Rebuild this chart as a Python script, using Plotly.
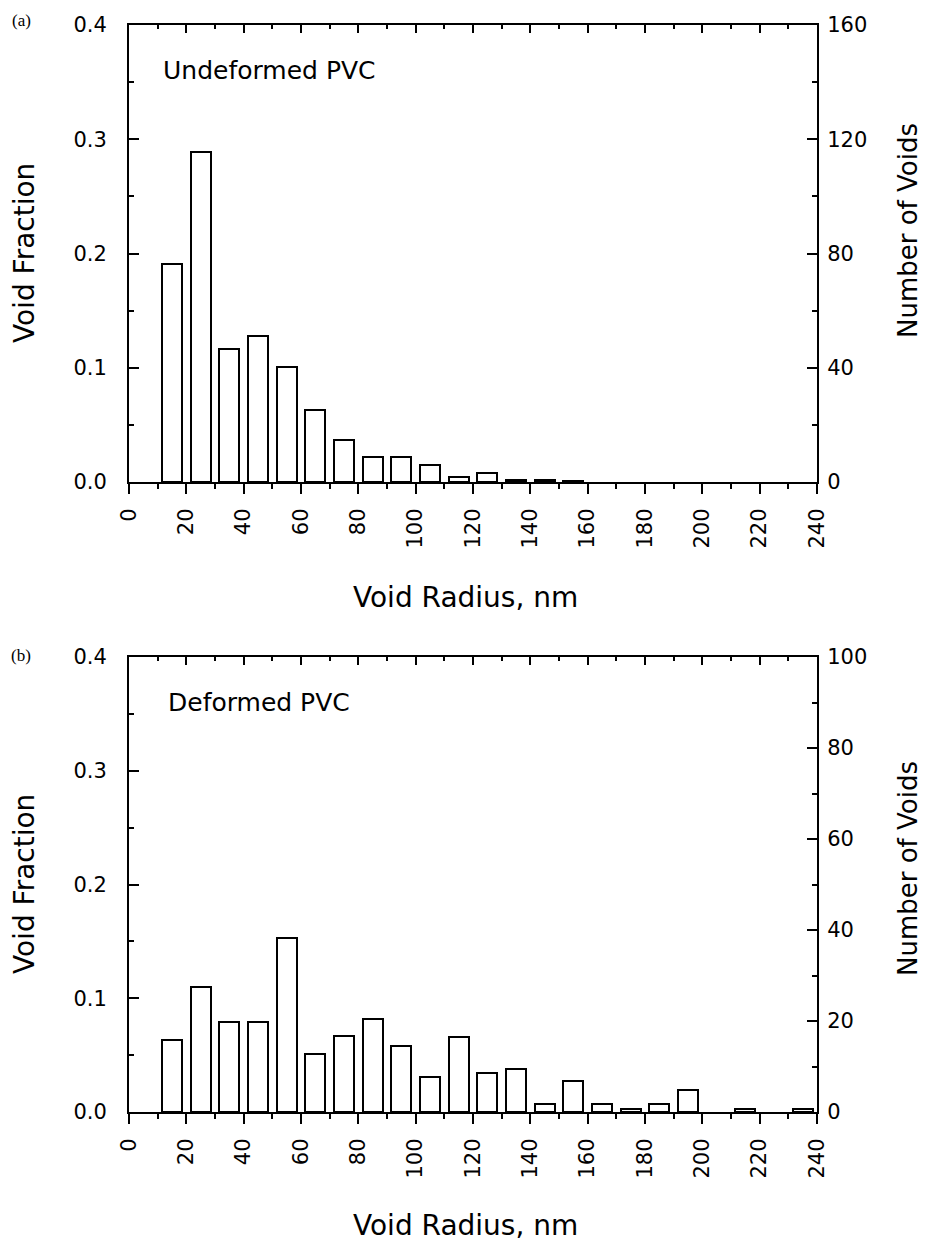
import plotly.graph_objects as go

# ---------------- data ----------------
radius_bins = [15, 25, 35, 45, 55, 65, 75, 85, 95, 105, 115, 125, 135, 145,
               155, 165, 175, 185, 195, 205, 215, 225, 235]
undeformed_fraction = [0.191, 0.289, 0.116, 0.128, 0.101, 0.063, 0.037, 0.022,
                       0.022, 0.015, 0.0045, 0.0075, 0.002, 0.002, 0.0007,
                       None, None, None, None, None, None, None, None]
deformed_fraction = [0.063, 0.110, 0.079, 0.079, 0.153, 0.051, 0.067, 0.082,
                     0.058, 0.0305, 0.066, 0.0345, 0.038, 0.007, 0.027, 0.007,
                     0.003, 0.007, 0.019, None, 0.003, None, 0.003]
x_tick_values = list(range(0, 241, 20))
x_tick_labels = [str(v) for v in x_tick_values]
fraction_range = [0, 0.4]
count_range_a = [0, 160]
count_range_b = [0, 100]
label_a = "Undeformed PVC"
label_b = "Deformed PVC"

# ---------------- layout geometry ----------------
OFF = 8                      # page body margin in the browser
W, H = 928 - OFF, 1242 - OFF
L, T = 129 - OFF, 25 - OFF
R = W - (817 - OFF)
B = H - (1112 - OFF)
PW, PH = W - L - R, H - T - B


def px_x(x):
    """reference-screen x pixel -> paper coordinate"""
    return (x - OFF - L) / PW


def px_y(y):
    """reference-screen y pixel -> paper coordinate"""
    return (H - B - (y - OFF)) / PH


FONT = "DejaVu Sans"
TICKFONT = dict(family=FONT, size=21, color="black")
TITLEFONT = dict(family=FONT, size=28, color="black")

fig = go.Figure()

bar_style = dict(marker=dict(color="white", line=dict(color="black", width=2)),
                 width=7, showlegend=False, hoverinfo="x+y")

fig.add_trace(go.Bar(x=radius_bins, y=undeformed_fraction, xaxis="x", yaxis="y", **bar_style))
fig.add_trace(go.Bar(x=radius_bins, y=deformed_fraction, xaxis="x2", yaxis="y2", **bar_style))
# traces that register the secondary (top / right) axes
fig.add_trace(go.Scatter(x=[None], y=[None], xaxis="x3", yaxis="y3", showlegend=False, hoverinfo="skip"))
fig.add_trace(go.Scatter(x=[None], y=[None], xaxis="x4", yaxis="y4", showlegend=False, hoverinfo="skip"))

top_dom = [px_y(482), 1.0]
bot_dom = [0.0, px_y(657)]

common_line = dict(showline=True, linewidth=2, linecolor="black", showgrid=False,
                   zeroline=False, tickcolor="black", tickwidth=2)


def bottom_x(anchor):
    return dict(anchor=anchor, domain=[0, 1], range=[0, 240], tickmode="array",
                tickvals=x_tick_values, ticktext=x_tick_labels, ticks="outside",
                ticklen=10, tickangle=-90, tickfont=TICKFONT, ticklabelstandoff=6,
                minor=dict(ticks="outside", ticklen=5, dtick=10, tick0=0,
                           tickwidth=2, tickcolor="black"),
                **common_line)


def top_x(overlay, anchor):
    return dict(overlaying=overlay, anchor=anchor, side="top", range=[0, 240],
                dtick=20, tick0=0, ticks="inside", ticklen=8, showticklabels=False,
                minor=dict(ticks="inside", ticklen=4, dtick=10, tick0=0,
                           tickwidth=2, tickcolor="black"),
                **common_line)


def left_y(anchor, dom):
    return dict(anchor=anchor, domain=dom, range=fraction_range, dtick=0.1, tick0=0,
                tickformat=".1f", ticks="inside", ticklen=10, tickfont=TICKFONT,
                ticklabelstandoff=16,
                minor=dict(ticks="inside", ticklen=5, dtick=0.05, tick0=0,
                           tickwidth=2, tickcolor="black"),
                **common_line)


def right_y(overlay, anchor, rng, major, minor):
    return dict(overlaying=overlay, anchor=anchor, side="right", range=rng,
                dtick=major, tick0=0, ticks="inside", ticklen=10, tickfont=TICKFONT,
                ticklabelstandoff=4,
                minor=dict(ticks="inside", ticklen=5, dtick=minor, tick0=0,
                           tickwidth=2, tickcolor="black"),
                **common_line)


fig.update_layout(
    width=W, height=H,
    margin=dict(l=L, r=R, t=T, b=B, autoexpand=False),
    paper_bgcolor="white", plot_bgcolor="white",
    showlegend=False, bargap=0,
    font=dict(family=FONT, color="black"),
    xaxis=bottom_x("y"),
    xaxis2=bottom_x("y2"),
    xaxis3=top_x("x", "y"),
    xaxis4=top_x("x2", "y2"),
    yaxis=left_y("x", top_dom),
    yaxis2=left_y("x2", bot_dom),
    yaxis3=right_y("y", "x", count_range_a, 40, 20),
    yaxis4=right_y("y2", "x2", count_range_b, 20, 10),
)

ann = []
ann.append(dict(text=label_a, x=11, y=0.36, xref="x", yref="y", xanchor="left",
                yanchor="middle", showarrow=False, font=dict(family=FONT, size=25)))
ann.append(dict(text=label_b, x=13, y=0.36, xref="x2", yref="y2", xanchor="left",
                yanchor="middle", showarrow=False, font=dict(family=FONT, size=25)))
for lab, ypx in (("(a)", 20), ("(b)", 655)):
    ann.append(dict(text=lab, x=px_x(21), y=px_y(ypx), xref="paper", yref="paper",
                    xanchor="center", yanchor="middle", showarrow=False,
                    font=dict(family="Liberation Serif", size=17)))
for ypx in (253, 884):
    ann.append(dict(text="Void Fraction", x=px_x(24), y=px_y(ypx), xref="paper",
                    yref="paper", xanchor="center", yanchor="middle", textangle=-90,
                    showarrow=False, font=TITLEFONT))
for ypx in (230, 868):
    ann.append(dict(text="Number of Voids", x=px_x(908), y=px_y(ypx), xref="paper",
                    yref="paper", xanchor="center", yanchor="middle", textangle=-90,
                    showarrow=False, font=dict(family=FONT, size=26, color="black")))
for ypx in (597, 1225):
    ann.append(dict(text="Void Radius, nm", x=px_x(465), y=px_y(ypx), xref="paper",
                    yref="paper", xanchor="center", yanchor="middle",
                    showarrow=False, font=TITLEFONT))
fig.update_layout(annotations=ann)

fig.write_html("out.html")
